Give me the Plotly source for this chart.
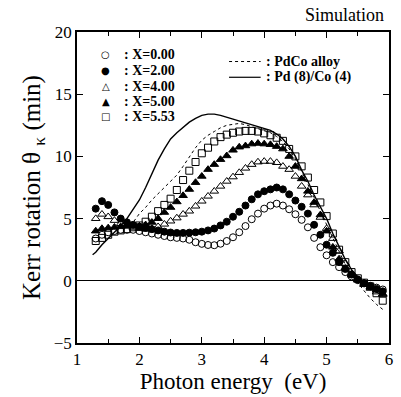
import plotly.graph_objects as go

# ---- data ----
energy = [1.3, 1.4, 1.5, 1.6, 1.7, 1.8, 1.9, 2.0, 2.1, 2.2, 2.3, 2.4, 2.5, 2.6, 2.7,
          2.8, 2.9, 3.0, 3.1, 3.2, 3.3, 3.4, 3.5, 3.6, 3.7, 3.8, 3.9, 4.0, 4.1, 4.2,
          4.3, 4.4, 4.5, 4.6, 4.7, 4.8, 4.9, 5.0, 5.1, 5.2, 5.3, 5.4, 5.5, 5.6, 5.7,
          5.8, 5.9]

kerr_x000 = [3.4, 3.7, 3.9, 4.0, 4.1, 4.1, 4.1, 4.0, 3.9, 3.8, 3.7, 3.6, 3.5, 3.45, 3.4,
             3.3, 3.1, 2.97, 2.88, 2.86, 2.98, 3.2, 3.5, 3.9, 4.4, 4.95, 5.4, 5.8, 6.05, 6.2,
             6.05, 5.75, 5.35, 4.9, 4.3, 3.45, 2.7, 2.05, 1.5, 1.1, 0.7, 0.35, 0.05, -0.2, -0.4,
             -0.55, -0.7]
kerr_x200 = [5.8, 6.4, 6.1, 5.5, 5.0, 4.7, 4.5, 4.35, 4.25, 4.15, 4.05, 3.95, 3.88, 3.85, 3.85,
             3.87, 3.9, 3.95, 4.05, 4.2, 4.45, 4.75, 5.15, 5.55, 6.05, 6.55, 6.95, 7.2, 7.35, 7.5,
             7.35, 6.95, 6.45, 5.95, 5.4, 4.5, 3.7, 2.9, 2.25, 1.5, 0.95, 0.5, 0.1, -0.2, -0.45,
             -0.65, -0.85]
kerr_x400 = [5.0, 5.35, 5.15, 4.85, 4.6, 4.4, 4.3, 4.2, 4.15, 4.2, 4.35, 4.55, 4.8, 5.05, 5.35,
             5.6, 6.0, 6.4, 6.8, 7.2, 7.6, 8.0, 8.35, 8.7, 9.05, 9.35, 9.55, 9.6, 9.6, 9.5,
             9.2, 8.95, 8.4, 7.6, 6.9, 6.1, 5.1, 4.2, 3.4, 2.4, 1.4, 0.55, 0.05, -0.3, -0.6,
             -0.9, -1.1]
kerr_x500 = [4.0, 4.2, 4.25, 4.3, 4.35, 4.4, 4.4, 4.4, 4.5, 4.7, 5.0, 5.5, 5.9, 6.35, 6.85,
             7.35, 7.9, 8.4, 8.95, 9.35, 9.75, 10.05, 10.5, 10.75, 10.85, 11.0, 11.05, 11.0, 10.95, 10.8,
             10.6, 10.0, 9.2, 8.2, 7.2, 6.3, 5.3, 4.0, 2.7, 1.75, 1.0, 0.45, 0.1, -0.2, -0.5,
             -0.75, -1.05]
kerr_x553 = [3.2, 3.45, 3.7, 3.95, 4.05, 4.15, 4.3, 4.45, 4.75, 5.15, 5.6, 6.1, 6.6, 7.3, 8.1,
             8.85, 9.55, 10.25, 10.7, 11.2, 11.55, 11.75, 11.9, 12.0, 12.05, 12.05, 12.0, 11.85, 11.7, 11.5,
             11.25, 10.6, 10.0, 9.2, 8.3, 7.3, 6.3, 5.2, 3.8, 2.5, 1.5, 0.7, 0.2, -0.15, -0.45,
             -1.0, -1.6]

alloy_energy = [1.85, 1.9, 2.0, 2.1, 2.2, 2.3, 2.4, 2.5, 2.6, 2.7, 2.8, 2.9, 3.0, 3.1, 3.2,
                3.3, 3.4, 3.5, 3.6, 3.7, 3.8, 3.9, 4.0, 4.1, 4.2, 4.3, 4.4, 4.5, 4.6, 4.7,
                4.8, 4.9, 5.0, 5.1, 5.2, 5.3, 5.4, 5.5, 5.6, 5.7, 5.8, 5.9]
alloy_kerr = [4.4, 4.7, 5.4, 5.9, 6.5, 7.0, 7.5, 8.0, 8.5, 9.2, 10.0, 10.7, 11.3, 11.7, 12.0,
              12.3, 12.5, 12.6, 12.65, 12.55, 12.4, 12.25, 12.1, 11.9, 11.6, 11.2, 10.6, 9.8, 8.8, 7.8,
              6.7, 5.6, 4.5, 3.4, 2.3, 1.3, 0.5, -0.2, -0.8, -1.4, -1.9, -2.3]

multi_energy = [1.25, 1.3, 1.4, 1.5, 1.6, 1.7, 1.8, 1.9, 2.0, 2.1, 2.2, 2.3, 2.4, 2.5, 2.6,
                2.7, 2.8, 2.9, 3.0, 3.1, 3.2, 3.3, 3.4, 3.5, 3.6, 3.7, 3.8, 3.9, 4.0, 4.1,
                4.2, 4.3, 4.4, 4.5, 4.6, 4.7, 4.8, 4.9, 5.0, 5.1, 5.2, 5.3, 5.4, 5.5, 5.6,
                5.7, 5.8, 5.9]
multi_kerr = [2.1, 2.3, 2.9, 3.4, 3.9, 4.4, 5.0, 5.7, 6.5, 7.5, 8.6, 9.7, 10.6, 11.4, 11.9,
              12.35, 12.75, 13.05, 13.3, 13.4, 13.4, 13.3, 13.15, 13.0, 12.9, 12.75, 12.6, 12.45, 12.3, 12.1,
              11.8, 11.4, 10.8, 10.0, 8.9, 8.0, 6.9, 6.0, 5.0, 3.8, 2.7, 1.7, 0.9, 0.3, -0.2,
              -0.6, -0.9, -1.2]

series_labels = [": X=0.00", ": X=2.00", ": X=4.00", ": X=5.00", ": X=5.53"]
series_glyphs = ["○", "●", "△", "▲", "□"]
line_labels = [": PdCo alloy", ": Pd (8)/Co (4)"]

x_ticks = [1, 2, 3, 4, 5, 6]
y_ticks = [-5, 0, 5, 10, 15, 20]

SERIF = "Liberation Serif"

fig = go.Figure()

fig.add_trace(go.Scatter(x=alloy_energy, y=alloy_kerr, mode="lines",
                         line=dict(color="black", width=1, dash="dot"), showlegend=False))
fig.add_trace(go.Scatter(x=multi_energy, y=multi_kerr, mode="lines",
                         line=dict(color="black", width=1.4), showlegend=False))

series = [kerr_x000, kerr_x200, kerr_x400, kerr_x500, kerr_x553]
symbols = ["circle-open", "circle", "triangle-up-open", "triangle-up", "square-open"]
sizes = [7, 7, 7.5, 7.5, 7]
for vals, sym, sz in zip(series, symbols, sizes):
    fig.add_trace(go.Scatter(x=energy, y=vals, mode="markers",
                             marker=dict(symbol=sym, size=sz, color="black",
                                         line=dict(color="black", width=1)),
                             showlegend=False))

# legend as text
W, H = 316.0, 316.0
L, T = 77, 32
def px2x(px):
    return (px - L) / W
def py2y(py):
    return 1 - (py - T) / H

rows = [55, 71, 87, 102.5, 118]
for g, lab, py in zip(series_glyphs, series_labels, rows):
    fig.add_annotation(x=px2x(106), y=py2y(py), xref="paper", yref="paper", text=g,
                       showarrow=False, xanchor="center", yanchor="middle",
                       font=dict(family="DejaVu Sans", size=10, color="black"))
    fig.add_annotation(x=px2x(123), y=py2y(py), xref="paper", yref="paper", text="<b>" + lab + "</b>",
                       showarrow=False, xanchor="left", yanchor="middle",
                       font=dict(family=SERIF, size=14, color="black"))

rows2 = [62, 78]
dashes = ["dot", "solid"]
for lab, py, d in zip(line_labels, rows2, dashes):
    fig.add_shape(type="line", xref="paper", yref="paper", x0=px2x(231), x1=px2x(263),
                  y0=py2y(py), y1=py2y(py), line=dict(color="black", width=1.2 if d == "solid" else 1, dash=d))
    fig.add_annotation(x=px2x(266), y=py2y(py), xref="paper", yref="paper", text="<b>" + lab + "</b>",
                       showarrow=False, xanchor="left", yanchor="middle",
                       font=dict(family=SERIF, size=14, color="black"))

fig.add_annotation(x=px2x(390), y=py2y(15), xref="paper", yref="paper", text="Simulation",
                   showarrow=False, xanchor="right", yanchor="middle",
                   font=dict(family=SERIF, size=18, color="black"))

axis_common = dict(showline=True, linecolor="black", linewidth=1.5, mirror="ticks",
                   ticks="inside", ticklen=6, tickwidth=1.2, tickcolor="black",
                   showgrid=False, tickfont=dict(family=SERIF, size=17, color="black"))

fig.update_xaxes(range=[1, 6], tickvals=x_ticks, zeroline=False,
                 minor=dict(dtick=0.5, ticks="inside", ticklen=4, tickwidth=1, tickcolor="black"),
                 title=dict(text="Photon energy\u00a0\u00a0(eV)", font=dict(family=SERIF, size=23, color="black"),
                            standoff=4),
                 **axis_common)
fig.update_yaxes(range=[-5, 20], tickvals=y_ticks, zeroline=True, zerolinecolor="black", zerolinewidth=1,
                 title=dict(text="Kerr rotation θ <sub>κ</sub> (min)", font=dict(family=SERIF, size=25, color="black"),
                            standoff=6),
                 **axis_common)

fig.update_layout(width=401, height=397, margin=dict(l=77, r=8, t=32, b=49),
                  plot_bgcolor="white", paper_bgcolor="white", showlegend=False)

fig.write_html("out.html")
